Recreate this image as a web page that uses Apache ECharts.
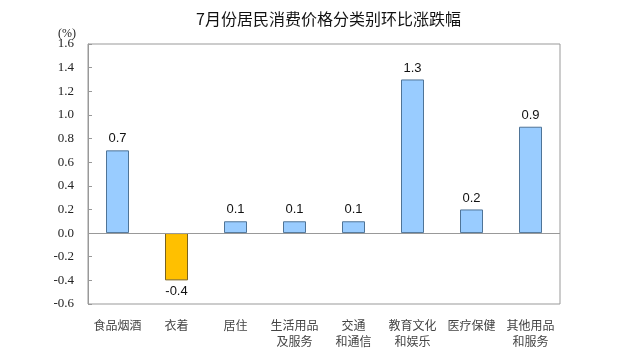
<!DOCTYPE html>
<html><head><meta charset="utf-8">
<script src="https://cdn.jsdelivr.net/npm/echarts@6/dist/echarts.min.js"></script>
<style>html,body{margin:0;padding:0;background:#fff}#c{width:620px;height:363px}</style>
</head><body><div id="c"></div>
<script>
const categories = ['食品烟酒','衣着','居住','生活用品\n及服务','交通\n和通信','教育文化\n和娱乐','医疗保健','其他用品\n和服务'];
const values = [0.7, -0.4, 0.1, 0.1, 0.1, 1.3, 0.2, 0.9];
const yTicks = [-0.6, 1.6, 0.2];

const chart = echarts.init(document.getElementById('c'));
chart.setOption({
  animation: false,
  backgroundColor: '#fff',
  title: {
    text: '7月份居民消费价格分类别环比涨跌幅',
    left: 191, top: 6,
    textStyle: {fontFamily: 'Noto Sans CJK SC', fontSize: 16, fontWeight: 'normal', color: '#111'}
  },
  graphic: [{type: 'text', x: 58, y: 28, style: {text: '(%)', font: '12px "Liberation Serif"', fill: '#222'}}],
  grid: {left: 88, right: 60, top: 44, bottom: 59, show: true, borderColor: '#999', borderWidth: 1},
  xAxis: {
    type: 'category', data: categories,
    axisLine: {show: false}, axisTick: {show: false},
    axisLabel: {fontFamily: 'Noto Sans CJK SC', fontSize: 12, color: '#444', lineHeight: 16, margin: 13, interval: 0}
  },
  yAxis: {
    type: 'value', min: yTicks[0], max: yTicks[1], interval: yTicks[2],
    axisLine: {show: true, lineStyle: {color: '#999'}},
    axisTick: {show: true, inside: true, length: 4, lineStyle: {color: '#999'}},
    splitLine: {show: false},
    axisLabel: {fontFamily: 'Liberation Serif', fontSize: 13, color: '#222', margin: 14, formatter: v => v.toFixed(1)}
  },
  series: [{
    type: 'bar', barWidth: 23,
    data: values.map(v => ({
      value: v,
      itemStyle: v < 0 ? {color: '#FFC000', borderColor: '#7A6320', borderWidth: 1}
                       : {color: '#99CCFF', borderColor: '#4F7497', borderWidth: 1},
      label: {position: v < 0 ? 'bottom' : 'top'}
    })),
    label: {show: true, fontFamily: 'Liberation Sans', fontSize: 13, color: '#111', distance: 5, formatter: p => p.value.toFixed(1)},
    markLine: {silent: true, symbol: 'none', label: {show: false}, lineStyle: {color: '#999', type: 'solid', width: 1}, data: [{yAxis: 0}]}
  }]
});
</script></body></html>
